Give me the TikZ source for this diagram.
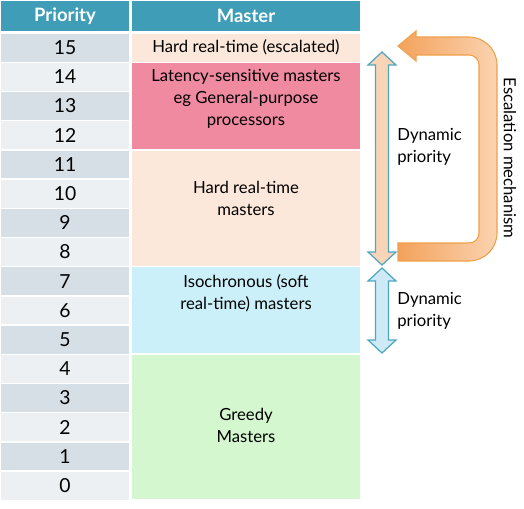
\documentclass[tikz,border=0pt]{standalone}
\usepackage{fontspec}
\setmainfont{Lato}
\usetikzlibrary{positioning}

\definecolor{headteal}{HTML}{3F9DB7}
\definecolor{rowdark}{HTML}{D6DFE5}
\definecolor{rowlight}{HTML}{EDF0F2}
\definecolor{peach}{HTML}{FCE8DA}
\definecolor{pinkblk}{HTML}{EF8AA1}
\definecolor{isoblue}{HTML}{CBF0FA}
\definecolor{greedygreen}{HTML}{D4F7CF}
\definecolor{arrowteal}{HTML}{4FA6BF}
\definecolor{arrowpeach}{HTML}{F9D4B6}
\definecolor{arrowblue}{HTML}{CDEAF6}
\definecolor{escdark}{HTML}{F3A25C}
\definecolor{esclight}{HTML}{FBD3B1}
\definecolor{escline}{HTML}{EFA04A}

\begin{document}
\begin{tikzpicture}[
    x=0.02cm, y=-0.02cm,
    head/.style={fill=headteal, draw=white, line width=0.8pt, text=white,
                 minimum height=0.64cm, inner sep=0pt,
                 font=\fontsize{10.5}{12}\selectfont\bfseries},
    prio/.style={draw=white, line width=0.8pt, minimum width=2.6cm,
                 minimum height=0.584cm, inner sep=0pt,
                 font=\fontsize{11}{12}\selectfont},
    blk/.style={draw=white, line width=0.8pt, minimum width=4.6cm, inner sep=0pt},
    lbl/.style={align=center, inner sep=0pt,
                font=\fontsize{9.5}{12.5}\selectfont},
    dynarrow/.style={draw=arrowteal, line width=0.7pt, line join=miter}
]
\useasboundingbox (0,0) rectangle (524,508);

% header
\node[head, minimum width=2.6cm] (hprio) at (65,16)  {Priority};
\node[head, minimum width=4.6cm] (hmast) at (246,16) {Master};

% priority column
\foreach \p in {0,...,15}{
    \pgfmathsetmacro\yc{47.6+29.2*(15-\p)}
    \ifodd\p \def\rowc{rowdark}\else\def\rowc{rowlight}\fi
    \node[prio, fill=\rowc] (p\p) at (65,\yc) {\p};
}

% master column
\node[blk, fill=peach,       minimum height=0.584cm] (esc)    at (246,47.6)  {};
\node[blk, fill=pinkblk,     minimum height=1.752cm] (lat)    at (246,106)   {};
\node[blk, fill=peach,       minimum height=2.336cm] (hrt)    at (246,208.2) {};
\node[blk, fill=isoblue,     minimum height=1.752cm] (iso)    at (246,310.4) {};
\node[blk, fill=greedygreen, minimum height=2.92cm]  (greedy) at (246,427.2) {};

\node[lbl] (esctxt)    at (246,47.6) {Hard real-time (escalated)};
\node[lbl] (lattxt)    at (246,99)   {Latency-sensitive masters\\eg General-purpose\\processors};
\node[lbl] (hrttxt)    at (246,198)  {Hard real-time\\masters};
\node[lbl] (isotxt)    at (246,293)  {Isochronous (soft\\real-time) masters};
\node[lbl] (greedytxt) at (246,425)  {Greedy\\Masters};

% dynamic priority arrows
\draw[dynarrow, fill=arrowpeach] (382,52) -- (396,65) -- (388.5,65) -- (388.5,252)
    -- (396,252) -- (382,265) -- (368,252) -- (375.5,252) -- (375.5,65) -- (368,65) -- cycle;
\draw[dynarrow, fill=arrowblue] (382,268) -- (396,281) -- (388.5,281) -- (388.5,340)
    -- (396,340) -- (382,353) -- (368,340) -- (375.5,340) -- (375.5,281) -- (368,281) -- cycle;

\node[lbl, align=left, anchor=west] (dyn1) at (397,147) {Dynamic\\priority};
\node[lbl, align=left, anchor=west] (dyn2) at (397,311) {Dynamic\\priority};

% escalation mechanism
\path[draw=escline, line width=0.6pt, left color=escdark, right color=esclight]
    (398,261) -- (469,261) arc[start angle=90, end angle=0, radius=28]
    -- (497,65) arc[start angle=0, end angle=-90, radius=28]
    -- (416,37) -- (416,31) -- (398,46) -- (416,61) -- (416,55)
    -- (469,55) arc[start angle=-90, end angle=0, radius=10]
    -- (479,233) arc[start angle=0, end angle=90, radius=10]
    -- (398,243) -- cycle;

\node[lbl, rotate=-90] (escl) at (510,158) {Escalation mechanism};
\end{tikzpicture}
\end{document}
